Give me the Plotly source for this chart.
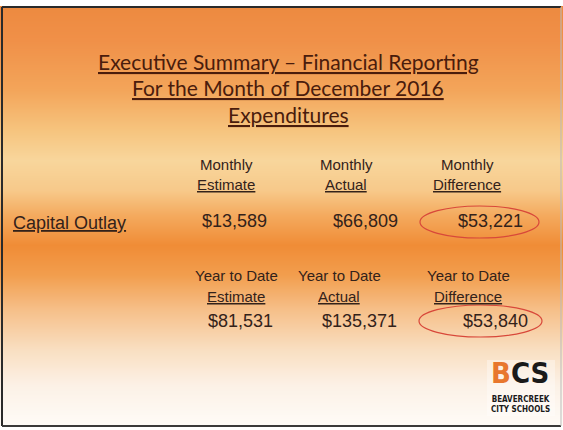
import plotly.graph_objects as go

# ---------------- data ----------------
title_lines = ["Executive Summary \u2013 Financial Reporting",
               "For the Month of December 2016",
               "Expenditures"]
row_label = "Capital Outlay"
monthly_top = ["Monthly", "Monthly", "Monthly"]
monthly_bottom = ["Estimate", "Actual", "Difference"]
monthly_values = [13589, 66809, 53221]
ytd_top = ["Year to Date", "Year to Date", "Year to Date"]
ytd_bottom = ["Estimate", "Actual", "Difference"]
ytd_values = [81531, 135371, 53840]
logo_text = ["B", "CS"]
logo_sub = ["BEAVERCREEK", "CITY SCHOOLS"]

# background gradient stops (pixel y, colour)
bg_y = [7, 40, 90, 130, 160, 190, 215, 245, 275, 310, 350, 385, 425]
bg_c = ["#ED8A40", "#F09048", "#F3A55A", "#F6C47E", "#F8D69C", "#F7C98A",
        "#F4AA5E", "#F08C36", "#F29E4E", "#F6C08A", "#F9DFC2", "#FCF1E6", "#FEFBF7"]

W, H = 563, 430
fig = go.Figure()

fr = [(v - bg_y[0]) / (bg_y[-1] - bg_y[0]) for v in bg_y]
fig.add_trace(go.Heatmap(
    x=[0, W], y=bg_y, z=[[f, f] for f in fr],
    colorscale=[[f, c] for f, c in zip(fr, bg_c)],
    zmin=0, zmax=1, zsmooth="best", showscale=False, hoverinfo="skip"))

TITLE_FONT = dict(family="Lato, Carlito, Open Sans", size=21, color="#4A1C0C")
HEAD_FONT = dict(family="Liberation Sans, Arial", size=15, color="#33221A")
VAL_FONT = dict(family="Liberation Sans, Arial", size=18, color="#33221A")
LOGO_FAM = "Liberation Sans Narrow, DejaVu Sans Condensed, Liberation Sans"

ann = []
for txt, yy in zip(title_lines, [61, 87, 114]):
    ann.append(dict(x=288, y=yy, text="<u>" + txt + "</u>", font=TITLE_FONT))

ann.append(dict(x=11, y=223, text="<u>" + row_label + "</u>", xanchor="left",
                font=dict(family="Liberation Sans, Arial", size=18, color="#33221A")))

m_head_x = [226, 346, 467]
m_val_right = [269, 400, 525]
for i in range(3):
    ann.append(dict(x=m_head_x[i], y=164, text=monthly_top[i], font=HEAD_FONT))
    ann.append(dict(x=m_head_x[i], y=184, text="<u>" + monthly_bottom[i] + "</u>", font=HEAD_FONT))
    ann.append(dict(x=m_val_right[i], y=221, text="${:,}".format(monthly_values[i]),
                    xanchor="right", font=VAL_FONT))

y_head_x = [236, 339, 468]
y_val_right = [275, 399, 530]
for i in range(3):
    ann.append(dict(x=y_head_x[i], y=275, text=ytd_top[i], font=HEAD_FONT))
    ann.append(dict(x=y_head_x[i], y=296, text="<u>" + ytd_bottom[i] + "</u>", font=HEAD_FONT))
    ann.append(dict(x=y_val_right[i], y=321, text="${:,}".format(ytd_values[i]),
                    xanchor="right", font=VAL_FONT))

# logo
ann.append(dict(x=520, y=392,
                text="<span style='color:#E8772E'>" + logo_text[0] + "</span>" + logo_text[1],
                yanchor="bottom",
                font=dict(family=LOGO_FAM, size=29, color="#1A1A1A", weight="bold")))
ann.append(dict(x=520, y=393, text="<br>".join(logo_sub), yanchor="top",
                font=dict(family=LOGO_FAM, size=8, color="#1A1A1A", weight="bold")))

for a in ann:
    a.update(xref="x", yref="y", showarrow=False)
    a.setdefault("xanchor", "center")
    a.setdefault("yanchor", "middle")

shapes = [
    # white margins outside slide
    dict(type="rect", x0=0, x1=W, y0=0, y1=6, fillcolor="white", line_width=0),
    dict(type="rect", x0=0, x1=W, y0=426, y1=H, fillcolor="white", line_width=0),
    # faint logo panel
    dict(type="rect", x0=487, x1=555, y0=360, y1=416, fillcolor="rgba(255,255,255,0.35)", line_width=0),
    # slide border
    dict(type="line", x0=2, x1=561, y0=7, y1=7, line=dict(color="#2A2A2A", width=2)),
    dict(type="line", x0=2, x1=2, y0=7, y1=426, line=dict(color="#2A2A2A", width=2)),
    dict(type="line", x0=2, x1=561, y0=426, y1=426, line=dict(color="#3A3A3A", width=2)),
    dict(type="line", x0=561, x1=561, y0=7, y1=426, line=dict(color="#BBBBBB", width=1)),
    # highlight ellipses
    dict(type="circle", x0=420, x1=539, y0=206, y1=238, line=dict(color="#D8483A", width=1.2)),
    dict(type="circle", x0=419, x1=542, y0=305, y1=337, line=dict(color="#D8483A", width=1.2)),
]

fig.update_layout(
    width=W, height=H, margin=dict(l=0, r=0, t=0, b=0),
    paper_bgcolor="white", plot_bgcolor="white",
    xaxis=dict(range=[0, W], visible=False, fixedrange=True),
    yaxis=dict(range=[H, 0], visible=False, fixedrange=True),
    annotations=ann, shapes=shapes, showlegend=False)

fig.write_html("out.html", config={"displayModeBar": False},
               post_script="document.body.style.margin='0';document.body.style.overflow='hidden';")
